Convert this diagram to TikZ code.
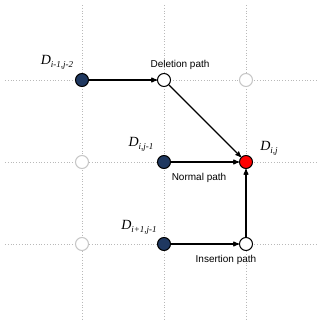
\documentclass[tikz,border=0pt]{standalone}
\usepackage{fontspec}
\setmainfont{Liberation Serif}
\newfontfamily\pathfont{Liberation Sans}
\usetikzlibrary{arrows}
\definecolor{navy}{RGB}{31,56,96}
\definecolor{cellred}{RGB}{255,0,0}
\newcommand{\cell}[1]{{\fontsize{14}{14}\selectfont\textit{D}\raisebox{-0.45ex}{\fontsize{9}{9}\selectfont\textit{#1}}}}

\begin{document}
\begin{tikzpicture}[x=1pt,y=-1pt]
    \tikzstyle{e} = [draw, line width=1.1pt, -stealth']
    \tikzstyle{pt} = [circle, draw, line width=1pt, inner sep=0pt, minimum size=13pt, fill=white]
    \tikzstyle{unused} = [pt, draw=gray!45]
    \tikzstyle{grid} = [gray!55, dotted, line width=0.8pt]
    \tikzstyle{lbl} = [font=\pathfont\fontsize{10}{12}\selectfont, inner sep=0pt]
    \useasboundingbox (0,0) rectangle (321,325);
    % dotted lattice
    \foreach \c in {82,164,246}
        \draw [grid] (\c,5) -- (\c,321);
    \foreach \r in {80,162,244}
        \draw [grid] (5,\r) -- (318,\r);
    % cells
    \node [pt, fill=navy] (Dprev) at (82,80) {};
    \node [pt] (Ddel) at (164,80) {};
    \node [unused] (U1) at (246,80) {};
    \node [unused] (U2) at (82,162) {};
    \node [pt, fill=navy] (Dnorm) at (164,162) {};
    \node [pt, fill=cellred] (Dij) at (246,162) {};
    \node [unused] (U3) at (82,244) {};
    \node [pt, fill=navy] (Dins) at (164,244) {};
    \node [pt] (Dup) at (246,244) {};
    % paths
    \draw [e] (Dprev) -- (Ddel);
    \draw [e] (Ddel) -- (Dij);
    \draw [e] (Dnorm) -- (Dij);
    \draw [e] (Dins) -- (Dup);
    \draw [e] (Dup) -- (Dij);
    % labels
    \node (lprev) at (57,62) {\cell{i-1,j-2}};
    \node (lnorm) at (141,144) {\cell{i,j-1}};
    \node (lij) at (269,148) {\cell{i,j}};
    \node (lins) at (139,227) {\cell{i+1,j-1}};
    \node [lbl] (tdel) at (180,65) {Deletion path};
    \node [lbl] (tnorm) at (199,178) {Normal path};
    \node [lbl] (tins) at (226,260) {Insertion path};
\end{tikzpicture}
\end{document}
